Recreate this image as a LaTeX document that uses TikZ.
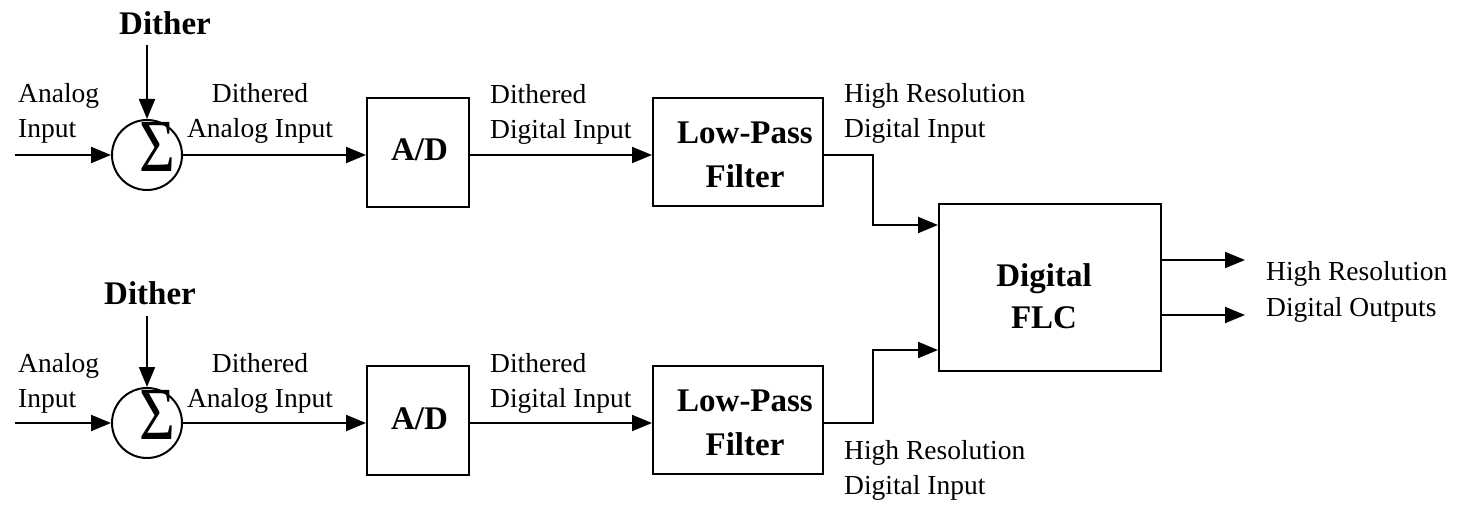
\documentclass[tikz,border=0pt]{standalone}
\usepackage{fontspec}
\setmainfont{Liberation Serif}
\usetikzlibrary{arrows.meta}
\tikzset{
  lbl/.style={font=\fontsize{27.5}{35}\selectfont, inner sep=0pt},
  blbl/.style={font=\fontsize{33}{44}\selectfont\bfseries, inner sep=0pt},
  flclbl/.style={font=\fontsize{33}{42}\selectfont\bfseries, inner sep=0pt},
  blk/.style={draw, line width=2pt, inner sep=0pt},
  sumnode/.style={draw, circle, line width=2pt, minimum size=70pt, inner sep=0pt},
  sigma/.style={font=\fontsize{75}{75}\selectfont, inner sep=0pt},
  wire/.style={line width=2pt},
  arr/.style={wire, -{Triangle[length=20pt,width=16pt]}},
}
\begin{document}
\begin{tikzpicture}[x=1pt,y=-1pt]
\useasboundingbox (0,0) rectangle (1457,505);
% ---------- row 1 ----------
\node[sumnode] (s1) at (147,155) {};
\node[sigma] (sg1) at (157,147) {\scalebox{0.82}[1]{Σ}};
\node[blbl, anchor=base] (dith1) at (165,35) {Dither};
\node[lbl, anchor=north west, align=left] (ain1) at (18,77.5) {\strut Analog\\\strut Input};
\node[lbl, anchor=north, align=center] (dai1) at (260,77.5) {\strut Dithered\\\strut Analog Input};
\node[blk, minimum width=102pt, minimum height=109pt] (ad1) at (418,152.5) {};
\node[blbl, anchor=base] (adt1) at (419.5,161) {A/D};
\node[lbl, anchor=north west, align=left] (ddi1) at (490,78.5) {\strut Dithered\\\strut Digital Input};
\node[blk, minimum width=170pt, minimum height=108pt] (lp1) at (738,152) {};
\node[blbl, anchor=north, align=center] (lpt1) at (745,112.2) {\strut Low-Pass\\\strut Filter};
\node[lbl, anchor=north west, align=left] (hr1) at (844,77.5) {\strut High Resolution\\\strut Digital Input};
\coordinate (in1) at (15,155);
\coordinate (dsrc1) at (147,45);
\coordinate (k1) at (873,155);
\coordinate (k1b) at (873,225);
% ---------- row 2 ----------
\node[sumnode] (s2) at (147,423) {};
\node[sigma] (sg2) at (157,415) {\scalebox{0.82}[1]{Σ}};
\node[blbl, anchor=base] (dith2) at (150,305) {Dither};
\node[lbl, anchor=north west, align=left] (ain2) at (18,347.5) {\strut Analog\\\strut Input};
\node[lbl, anchor=north, align=center] (dai2) at (260,347.5) {\strut Dithered\\\strut Analog Input};
\node[blk, minimum width=102pt, minimum height=109pt] (ad2) at (418,420.5) {};
\node[blbl, anchor=base] (adt2) at (419.5,429) {A/D};
\node[lbl, anchor=north west, align=left] (ddi2) at (490,347.5) {\strut Dithered\\\strut Digital Input};
\node[blk, minimum width=170pt, minimum height=108pt] (lp2) at (738,420) {};
\node[blbl, anchor=north, align=center] (lpt2) at (745,380.2) {\strut Low-Pass\\\strut Filter};
\node[lbl, anchor=north west, align=left] (hr2) at (844,434.5) {\strut High Resolution\\\strut Digital Input};
\coordinate (in2) at (15,423);
\coordinate (dsrc2) at (147,316);
\coordinate (k2) at (873,423);
\coordinate (k2b) at (873,350);
% ---------- FLC ----------
\node[blk, minimum width=222pt, minimum height=167pt] (flc) at (1050,287.5) {};
\node[flclbl, anchor=north, align=center] (flct) at (1044,256.6) {\strut Digital\\\strut FLC};
\coordinate (o1) at (1245,260);
\coordinate (o2) at (1245,315);
\node[font=\fontsize{27.5}{36}\selectfont, inner sep=0pt, anchor=north west, align=left] (hro) at (1266,254.8) {\strut High Resolution\\\strut Digital Outputs};
% ---------- connectors ----------
\draw[arr] (in1) -- (s1.west);
\draw[arr] (dsrc1) -- (s1.north);
\draw[arr] (s1.east) -- (s1.east -| ad1.west);
\draw[arr] (ad1.east |- s1) -- (lp1.west |- s1);
\draw[arr] (lp1.east |- s1) -- (k1) -- (k1b) -- (k1b -| flc.west);
\draw[arr] (in2) -- (s2.west);
\draw[arr] (dsrc2) -- (s2.north);
\draw[arr] (s2.east) -- (s2.east -| ad2.west);
\draw[arr] (ad2.east |- s2) -- (lp2.west |- s2);
\draw[arr] (lp2.east |- s2) -- (k2) -- (k2b) -- (k2b -| flc.west);
\draw[arr] (o1 -| flc.east) -- (o1);
\draw[arr] (o2 -| flc.east) -- (o2);
\end{tikzpicture}
\end{document}
